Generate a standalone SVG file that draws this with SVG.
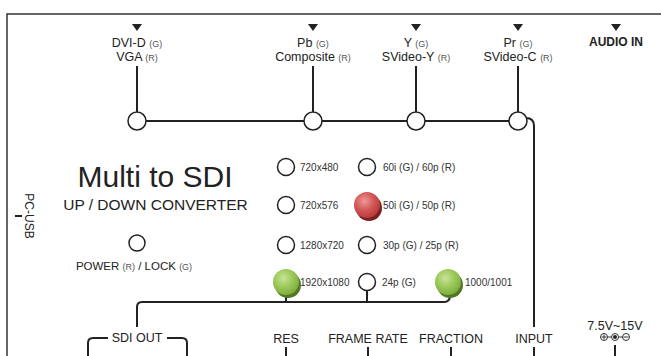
<svg xmlns="http://www.w3.org/2000/svg" width="661" height="356" viewBox="0 0 661 356">
<defs>
<style>
text{font-family:"Liberation Sans",Arial,sans-serif;fill:#222}
.lbl{font-size:12.5px;text-anchor:middle}
.sm{font-size:9px;fill:#555}
.opt{font-size:10px;fill:#333}
.bot{font-size:12.5px;text-anchor:middle}
.ln{fill:none;stroke:#222;stroke-width:2}
.tick{stroke:#222;stroke-width:2}
.led{fill:#fff;stroke:#222;stroke-width:1.5}
.tri{fill:#222}
</style>
<radialGradient id="gRed" cx="0.4" cy="0.35" r="0.7">
<stop offset="0" stop-color="#ee9a9a"/>
<stop offset="0.5" stop-color="#d45858"/>
<stop offset="1" stop-color="#b23535"/>
</radialGradient>
<radialGradient id="gGreen" cx="0.4" cy="0.35" r="0.7">
<stop offset="0" stop-color="#c8e39a"/>
<stop offset="0.5" stop-color="#9cc95a"/>
<stop offset="1" stop-color="#7aa83a"/>
</radialGradient>
</defs>
<rect width="661" height="356" fill="#fff"/>
<g id="frame">
<path d="M7 356 V14 H661" fill="none" stroke="#333" stroke-width="1.5"/>
</g>

<g id="connectors">
<path class="ln" d="M137 66 V112 M313 66 V112 M416 66 V112 M518 66 V112"/>
<path class="ln" d="M146 121 H509"/>
<path class="ln" d="M526 118 Q534 118 534 126 V327"/>
<path class="ln" d="M137 327 V307 Q137 302 142 302 H444 Q450 302 450 295"/>
<path class="ln" d="M286 295 V302 M367 291 V302"/>
</g>

<g id="in-dvi">
<polygon class="tri" points="132,24 142,24 137,31"/>
<text class="lbl" x="137" y="47">DVI-D <tspan class="sm">(G)</tspan></text>
<text class="lbl" x="137" y="61">VGA <tspan class="sm">(R)</tspan></text>
<circle class="led" cx="137" cy="121" r="9"/>
</g>
<g id="in-pb">
<polygon class="tri" points="308,24 318,24 313,31"/>
<text class="lbl" x="313" y="47">Pb <tspan class="sm">(G)</tspan></text>
<text class="lbl" x="313" y="61">Composite <tspan class="sm">(R)</tspan></text>
<circle class="led" cx="313" cy="121" r="9"/>
</g>
<g id="in-y">
<polygon class="tri" points="411,24 421,24 416,31"/>
<text class="lbl" x="416" y="47">Y <tspan class="sm">(G)</tspan></text>
<text class="lbl" x="416" y="61">SVideo-Y <tspan class="sm">(R)</tspan></text>
<circle class="led" cx="416" cy="121" r="9"/>
</g>
<g id="in-pr">
<polygon class="tri" points="513,24 523,24 518,31"/>
<text class="lbl" x="518" y="47">Pr <tspan class="sm">(G)</tspan></text>
<text class="lbl" x="518" y="61">SVideo-C <tspan class="sm">(R)</tspan></text>
<circle class="led" cx="518" cy="121" r="9"/>
</g>
<g id="audio-in">
<polygon class="tri" points="611,24 621,24 616,31"/>
<text x="616" y="46" font-size="12" text-anchor="middle" font-weight="bold">AUDIO IN</text>
</g>

<g id="title">
<text x="155" y="187" font-size="30" text-anchor="middle">Multi to SDI</text>
<text x="155.5" y="210" font-size="15.5" text-anchor="middle">UP / DOWN CONVERTER</text>
</g>

<g id="pc-usb">
<text x="25" y="216" font-size="12" text-anchor="middle" transform="rotate(90 25 216)">PC-USB</text>
<line class="tick" x1="15" y1="216" x2="22" y2="216"/>
</g>

<g id="power">
<circle class="led" cx="137" cy="243" r="8"/>
<text x="134" y="270" font-size="11.5" text-anchor="middle">POWER <tspan class="sm">(R)</tspan> / LOCK <tspan class="sm">(G)</tspan></text>
</g>

<g id="res-720x480">
<circle class="led" cx="286" cy="167" r="8.5"/>
<text class="opt" x="300" y="171">720x480</text>
</g>
<g id="res-720x576">
<circle class="led" cx="286" cy="205" r="8.5"/>
<text class="opt" x="300" y="209">720x576</text>
</g>
<g id="res-1280x720">
<circle class="led" cx="286" cy="245" r="8.5"/>
<text class="opt" x="300" y="249">1280x720</text>
</g>
<g id="res-1920x1080">
<circle cx="288" cy="285" r="13" fill="#4f7a22"/>
<circle cx="286" cy="282" r="13" fill="url(#gGreen)"/>
<text class="opt" x="300" y="286">1920x1080</text>
</g>
<g id="fr-60">
<circle class="led" cx="367" cy="167" r="8.5"/>
<text class="opt" x="383" y="171">60i (G) / 60p (R)</text>
</g>
<g id="fr-50">
<circle cx="369" cy="208" r="13" fill="#7a2020"/>
<circle cx="367" cy="205" r="13" fill="url(#gRed)"/>
<text class="opt" x="383" y="209">50i (G) / 50p (R)</text>
</g>
<g id="fr-30">
<circle class="led" cx="367" cy="245" r="8.5"/>
<text class="opt" x="383" y="249">30p (G) / 25p (R)</text>
</g>
<g id="fr-24">
<circle class="led" cx="367" cy="282" r="8.5"/>
<text class="opt" x="382" y="286">24p (G)</text>
</g>
<g id="fraction-led">
<circle cx="450" cy="285" r="13" fill="#4f7a22"/>
<circle cx="448" cy="282" r="13" fill="url(#gGreen)"/>
<text class="opt" x="465" y="286">1000/1001</text>
</g>

<g id="sdi-out">
<text class="bot" x="137" y="342">SDI OUT</text>
<path class="ln" d="M88 356 V343 Q88 338 93 338 H108 M167 338 H182 Q187 338 187 343 V356"/>
</g>
<g id="res">
<text class="bot" x="286" y="343">RES</text>
<line class="tick" x1="286" y1="347" x2="286" y2="356"/>
</g>
<g id="frame-rate">
<text class="bot" x="368" y="343">FRAME RATE</text>
<line class="tick" x1="368" y1="347" x2="368" y2="356"/>
</g>
<g id="fraction">
<text class="bot" x="451" y="343">FRACTION</text>
<line class="tick" x1="451" y1="347" x2="451" y2="356"/>
</g>
<g id="input">
<text class="bot" x="534" y="343">INPUT</text>
<line class="tick" x1="534" y1="347" x2="534" y2="356"/>
</g>
<g id="power-in">
<text class="bot" x="615" y="330" font-size="12.5">7.5V~15V</text>
<g fill="none" stroke="#333" stroke-width="1">
<circle cx="604" cy="337" r="3.5"/>
<path d="M604 334.5 V339.5 M601.5 337 H606.5"/>
<circle cx="615" cy="337" r="3.5"/>
<circle cx="626" cy="337" r="3.5"/>
<path d="M623.5 337 H628.5"/>
<path d="M607.5 337 H611.5 M618.5 337 H622.5"/>
</g>
<circle cx="615" cy="337" r="2" fill="#222"/>
<line class="tick" x1="615" y1="345" x2="615" y2="356"/>
</g>
</svg>
